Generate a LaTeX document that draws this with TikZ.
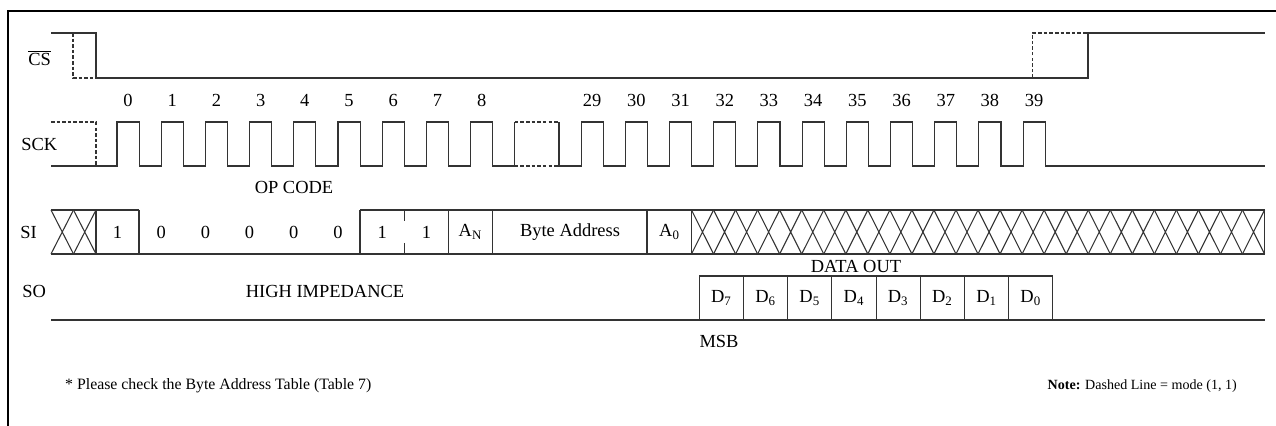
\documentclass[tikz,border=0pt]{standalone}
\usepackage{fontspec}
\setmainfont{Liberation Serif}
\usepackage{tikz}

\begin{document}
\begin{tikzpicture}[font=\fontsize{10.5}{12}\selectfont,
  wave/.style={line width=0.6pt, black!80},
  mode/.style={wave, dash pattern=on 2pt off 1.2pt},
  lbl/.style={inner sep=0pt, anchor=west},
  num/.style={text height=1.5ex, text depth=0pt}]
  \useasboundingbox (0,0) rectangle (25.52,8.52);
  \draw[line width=1.1pt] (0.16,0) -- (0.16,8.30) -- (25.52,8.30);

  % chip select
  \node[lbl] (cs) at (0.56,7.36) {$\overline{\mbox{CS}}$};
  \draw[wave] (1.02,7.86) -- (1.92,7.86) -- (1.92,6.96) -- (21.76,6.96) -- (21.76,7.86) -- (25.30,7.86);
  \draw[mode] (1.46,7.86) -- (1.46,6.96) -- (1.92,6.96);
  \draw[mode] (20.65,6.96) -- (20.65,7.86) -- (21.76,7.86);

  % clock
  \node[lbl] (sck) at (0.42,5.64) {SCK};
  \draw[wave] (1.02,5.20) foreach \k in {0,...,8} {
      -- ({2.34+0.884*\k},5.20) -- ++(0,0.88) -- ++(0.442,0) -- ++(0,-0.88)}
    -- (10.296,5.20) -- (10.296,6.08);
  \draw[wave] (11.18,6.08) -- (11.18,5.20) foreach \k in {0,...,10} {
      -- ({11.622+0.884*\k},5.20) -- ++(0,0.88) -- ++(0.442,0) -- ++(0,-0.88)}
    -- (25.30,5.20);
  \draw[mode] (1.02,6.08) -- (1.92,6.08) -- (1.92,5.20);
  \draw[mode] (10.296,6.08) -- (11.18,6.08) (10.296,5.20) -- (11.18,5.20);
  \foreach \k in {0,...,8}
    \node[num] (n\k) at ({2.561+0.884*\k},6.52) {\k};
  \foreach \k in {29,...,39}
    \node[num] (n\k) at ({11.843+0.884*(\k-29)},6.52) {\k};

  % serial in
  \node[lbl] (si) at (0.40,3.88) {SI};
  \node (op) at (5.88,4.78) {OP CODE};
  \draw[wave] (1.02,4.32) -- (2.78,4.32) (7.20,4.32) -- (25.29,4.32) (1.02,3.44) -- (25.29,3.44);
  \foreach \x in {1.92,2.78,7.20,8.97,9.85,12.94,13.83,25.29}
    \draw[wave] (\x,3.44) -- (\x,4.32);
  \draw[wave] (8.09,4.32) -- (8.09,4.10) (8.09,3.66) -- (8.09,3.44);
  \foreach \i in {0,1}
    \draw[wave] ({1.02+0.45*\i},3.44) -- ++(0.45,0.88) ({1.02+0.45*\i},4.32) -- ++(0.45,-0.88);
  \foreach \i in {0,...,25}
    \draw[wave] ({13.83+0.4408*\i},3.44) -- ++(0.4408,0.88) ({13.83+0.4408*\i},4.32) -- ++(0.4408,-0.88);
  \node[num] (b0) at (2.35,3.88) {1};
  \foreach \i in {1,...,5}
    \node[num] (b\i) at ({3.224+0.884*(\i-1)},3.88) {0};
  \node[num] (b6) at (7.644,3.88) {1};
  \node[num] (b7) at (8.528,3.88) {1};
  \node (an) at (9.41,3.88) {A\textsubscript{N}};
  \node (addr) at (11.40,3.88) {Byte Address};
  \node (a0) at (13.39,3.88) {A\textsubscript{0}};

  % serial out
  \node[lbl] (so) at (0.44,2.70) {SO};
  \node (hiz) at (6.50,2.70) {HIGH IMPEDANCE};
  \node (dout) at (17.12,3.20) {DATA OUT};
  \draw[wave] (1.02,2.12) -- (25.30,2.12);
  \foreach \i in {0,...,7} {
    \pgfmathtruncatemacro\d{7-\i}
    \draw[wave] ({13.986+0.884*\i},2.12) rectangle ++(0.884,0.88);
    \node (d\d) at ({14.428+0.884*\i},2.56) {D\textsubscript{\d}};
  }
  \node (msb) at (14.38,1.70) {MSB};

  \node[anchor=west] (foot) at (1.18,0.80) {\small * Please check the Byte Address Table (Table 7)};
  \node[anchor=east] (note) at (24.86,0.80) {\footnotesize\textbf{Note:} Dashed Line = mode (1, 1)};
\end{tikzpicture}
\end{document}
